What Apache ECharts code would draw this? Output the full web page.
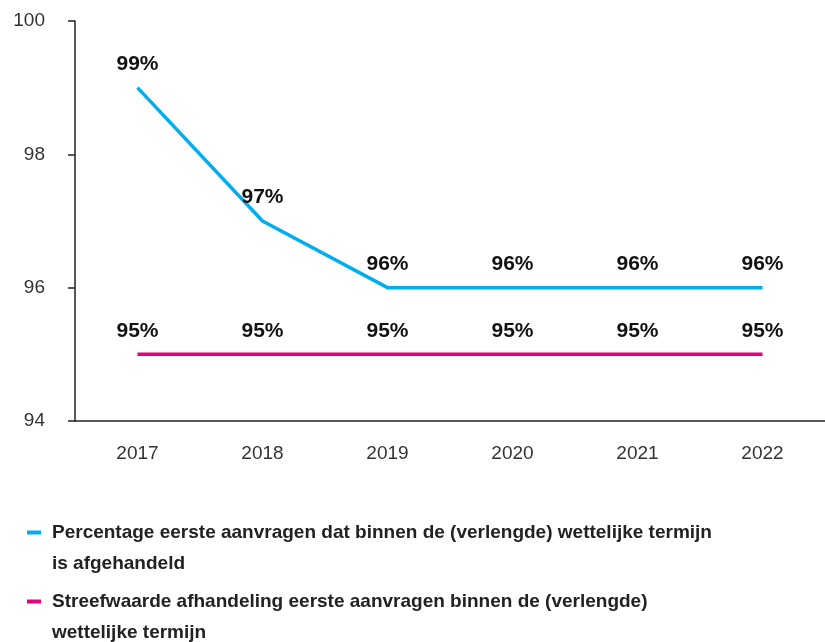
<!DOCTYPE html>
<html>
<head>
<meta charset="utf-8">
<script src="https://cdn.jsdelivr.net/npm/echarts@6/dist/echarts.min.js"></script>
<style>
  html, body { margin: 0; padding: 0; background: #fff; }
  #chart { width: 825px; height: 642px; }
</style>
</head>
<body>
<div id="chart"></div>
<script>
  // data
  const years = ['2017', '2018', '2019', '2020', '2021', '2022'];
  const afgehandeld = [99, 97, 96, 96, 96, 96];
  const streefwaarde = [95, 95, 95, 95, 95, 95];
  const yTicks = [94, 96, 98, 100];

  // leading blank line keeps the legend icon level with the first text line
  const nameA = ' \nPercentage eerste aanvragen dat binnen de (verlengde) wettelijke termijn\nis afgehandeld';
  const nameB = ' \nStreefwaarde afhandeling eerste aanvragen binnen de (verlengde)\nwettelijke termijn';

  const blue = '#00aeef';
  const pink = '#e5007d';
  const font = '"Liberation Sans", Arial, sans-serif';

  const valueLabel = {
    show: true,
    position: 'top',
    distance: 13,
    formatter: '{c}%',
    fontSize: 21,
    fontWeight: 'bold',
    color: '#111',
    fontFamily: font
  };

  let chart = echarts.init(document.getElementById('chart'));
  chart.setOption({
    animation: false,
    textStyle: { fontFamily: font },
    grid: {
      left: 75,
      top: 21,
      width: 758,
      height: 400
    },
    legend: {
      orient: 'vertical',
      left: 22,
      top: 481,
      height: 300,
      itemWidth: 14,
      itemHeight: 4,
      itemGap: -24,
      icon: 'rect',
      textStyle: {
        fontFamily: font,
        fontSize: 19,
        fontWeight: 'bold',
        color: '#222',
        lineHeight: 31,
        padding: [0, 0, 0, 6]
      },
      data: [
        { name: nameA, itemStyle: { color: blue, opacity: 1 } },
        { name: nameB, itemStyle: { color: pink, opacity: 1 } }
      ]
    },
    xAxis: {
      type: 'category',
      data: years,
      axisLine: { lineStyle: { color: '#222', width: 1.5 } },
      axisTick: { show: false },
      axisLabel: { fontSize: 19, color: '#333', margin: 23, fontFamily: font }
    },
    yAxis: {
      type: 'value',
      min: yTicks[0],
      max: yTicks[yTicks.length - 1],
      interval: 2,
      axisLine: { show: true, lineStyle: { color: '#222', width: 1.5 } },
      axisTick: { show: true, length: 7, lineStyle: { color: '#222', width: 1.5 } },
      splitLine: { show: false },
      axisLabel: { fontSize: 19, color: '#333', margin: 30, fontFamily: font }
    },
    series: [
      {
        name: nameA,
        type: 'line',
        data: afgehandeld,
        color: blue,
        symbol: 'circle',
        symbolSize: 0.1,
        showAllSymbol: true,
        itemStyle: { color: 'rgba(0,0,0,0)', borderWidth: 0 },
        lineStyle: { width: 3.5, color: blue },
        label: valueLabel
      },
      {
        name: nameB,
        type: 'line',
        data: streefwaarde,
        color: pink,
        symbol: 'circle',
        symbolSize: 0.1,
        showAllSymbol: true,
        itemStyle: { color: 'rgba(0,0,0,0)', borderWidth: 0 },
        lineStyle: { width: 3.5, color: pink },
        label: valueLabel
      }
    ]
  });
</script>
</body>
</html>
